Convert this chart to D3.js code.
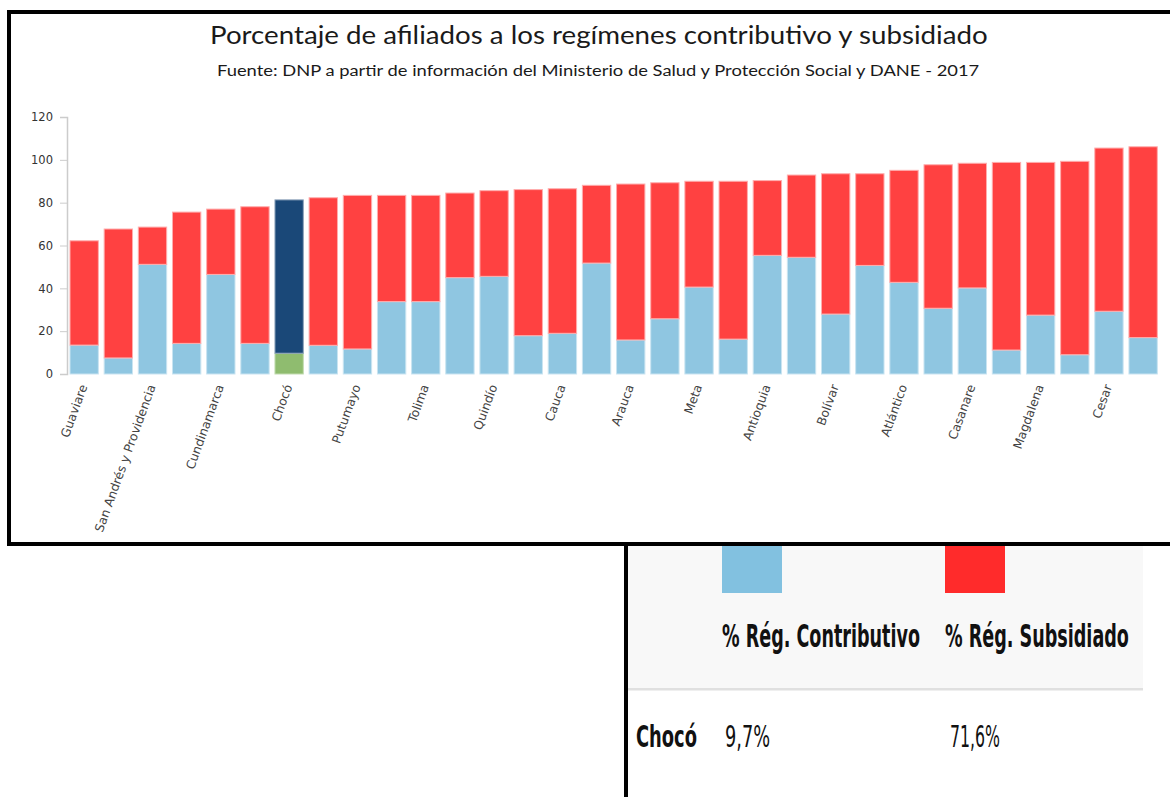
<!DOCTYPE html>
<html>
<head>
<meta charset="utf-8">
<script src="https://cdn.jsdelivr.net/npm/d3@7"></script>
<style>
  html, body { margin: 0; padding: 0; background: #fff; }
  svg { display: block; }
</style>
</head>
<body>
<svg id="chart" width="1170" height="797"></svg>
<script>
const categories = ["Guaviare","Vaupés","San Andrés y Providencia","Caquetá","Cundinamarca","Guainía","Chocó","Nariño","Putumayo","Huila","Tolima","Norte de Santander","Quindío","Amazonas","Cauca","Risaralda","Arauca","Boyacá","Meta","Vichada","Antioquia","Valle del Cauca","Bolívar","Caldas","Atlántico","Santander","Casanare","Córdoba","Magdalena","Sucre","Cesar","La Guajira"];
const contributivo = [13.5,7.5,51.2,14.3,46.5,14.3,9.7,13.4,11.7,33.8,33.8,45.0,45.6,17.9,19.0,51.8,15.9,25.8,40.6,16.3,55.4,54.5,28.0,50.7,42.8,30.7,40.2,11.2,27.5,9.0,29.3,17.0];
const subsidiado = [48.7,60.2,17.4,61.3,30.5,63.8,71.6,68.9,71.7,49.6,49.6,39.5,40.0,68.2,67.5,36.3,72.8,63.5,49.4,73.7,34.9,38.4,65.5,42.8,52.3,67.0,58.2,87.6,71.3,90.3,76.2,89.1];
const yTicks = [0,20,40,60,80,100,120];
const highlighted = "Chocó";
const seriesNames = ["% Rég. Contributivo","% Rég. Subsidiado"];
const titleText = "Porcentaje de afiliados a los regímenes contributivo y subsidiado";
const subtitleText = "Fuente: DNP a partir de información del Ministerio de Salud y Protección Social y DANE - 2017";

const svg = d3.select("#chart");

// frame
svg.append("rect").attr("x",9).attr("y",12).attr("width",1200).attr("height",532)
  .attr("fill","none").attr("stroke","#000").attr("stroke-width",4);

// fit a text element horizontally to a target width using a scale transform
function fitText(sel, x0, y0, w) {
  const n = sel.node();
  const L = n.getComputedTextLength();
  const k = w / L;
  sel.attr("x",0).attr("y",0).attr("transform",`translate(${x0},${y0}) scale(${k},1)`);
}

// titles
const t1 = svg.append("text").attr("font-family","Lato, 'Open Sans', sans-serif").attr("font-size",25)
  .attr("fill","#1a1a1a").text(titleText);
fitText(t1, 210, 44, 778);
const t2 = svg.append("text").attr("font-family","Lato, 'Open Sans', sans-serif").attr("font-size",15)
  .attr("fill","#1a1a1a").text(subtitleText);
fitText(t2, 217, 76, 763);

// scales
const x = d3.scaleBand().domain(categories).range([67.1,1160.2]).paddingInner(0.17).paddingOuter(0.085);
const y = d3.scaleLinear().domain([0,120]).range([374,117]);

const data = categories.map((c,i)=>({name:c, c:contributivo[i], s:subsidiado[i]}));

const g = svg.append("g");
g.selectAll("rect.c").data(data).join("rect").attr("class","c")
  .attr("x",d=>x(d.name)).attr("width",x.bandwidth())
  .attr("y",d=>y(d.c)).attr("height",d=>y(0)-y(d.c))
  .attr("fill",d=>d.name===highlighted?"#8fbc6f":"#8fc6e1")
  .attr("stroke",d=>d.name===highlighted?"#c2dcb0":"#c9e4f1").attr("stroke-width",1);
g.selectAll("rect.s").data(data).join("rect").attr("class","s")
  .attr("x",d=>x(d.name)).attr("width",x.bandwidth())
  .attr("y",d=>y(d.c+d.s)).attr("height",d=>y(d.c)-y(d.c+d.s))
  .attr("fill",d=>d.name===highlighted?"#1a4878":"#ff4141")
  .attr("stroke",d=>d.name===highlighted?"#8da3bb":"#ffadad").attr("stroke-width",1);

// y axis
const yAxis = svg.append("g").attr("transform","translate(67,0)")
  .call(d3.axisLeft(y).tickValues(yTicks).tickSize(7).tickPadding(7));
yAxis.select(".domain").attr("stroke","#ccc").attr("stroke-width",1.5);
yAxis.selectAll(".tick line").attr("stroke","#ccc");
yAxis.selectAll(".tick text").attr("font-family","Verdana, 'DejaVu Sans', sans-serif")
  .attr("font-size",11.5).attr("fill","#333");

// x axis labels
const xAxis = svg.append("g").attr("transform","translate(0,374)")
  .call(d3.axisBottom(x).tickSize(0).tickPadding(10)
    .tickFormat((d,i)=> i%2===0 ? d : ""));
xAxis.select(".domain").remove();
xAxis.selectAll(".tick text")
  .attr("font-family","Verdana, 'DejaVu Sans', sans-serif").attr("font-size",12.3).attr("fill","#444")
  .attr("text-anchor","end").attr("dy","0.35em")
  .attr("transform","translate(0,9) rotate(-70)").attr("y",0).attr("x",-2);

// bottom panel
svg.append("rect").attr("x",628).attr("y",546).attr("width",515).attr("height",143).attr("fill","#f8f8f8");
svg.append("rect").attr("x",628).attr("y",688).attr("width",515).attr("height",2.5).attr("fill","#e0e0e0");
svg.append("rect").attr("x",624).attr("y",544).attr("width",4).attr("height",260).attr("fill","#000");

const panelFont = "'Liberation Sans Narrow', 'DejaVu Sans Condensed', sans-serif";
const swX = [722, 945];
const swColors = ["#82c1e0","#ff2b2b"];
swX.forEach((sx,i)=>{
  svg.append("rect").attr("x",sx).attr("y",546).attr("width",60).attr("height",47).attr("fill",swColors[i]);
});
const hdrLen = [198, 184];
seriesNames.forEach((t,i)=>{
  const h = svg.append("text").attr("font-family",panelFont)
    .attr("font-weight","bold").attr("font-size",32).attr("fill","#111").text(t);
  fitText(h, swX[i], 647, hdrLen[i]);
});
const hi = categories.indexOf(highlighted);
const fmt = v => d3.format(".1f")(v).replace(".",",") + "%";
const r1 = svg.append("text").attr("font-family",panelFont)
  .attr("font-weight","bold").attr("font-size",30).attr("fill","#111").text(highlighted);
fitText(r1, 636, 747, 61);
const r2 = svg.append("text").attr("font-family",panelFont)
  .attr("font-size",30).attr("fill","#111").text(fmt(contributivo[hi]));
fitText(r2, 725, 747, 45);
const r3 = svg.append("text").attr("font-family",panelFont)
  .attr("font-size",30).attr("fill","#111").text(fmt(subsidiado[hi]));
fitText(r3, 950, 747, 50);
</script>
</body>
</html>
